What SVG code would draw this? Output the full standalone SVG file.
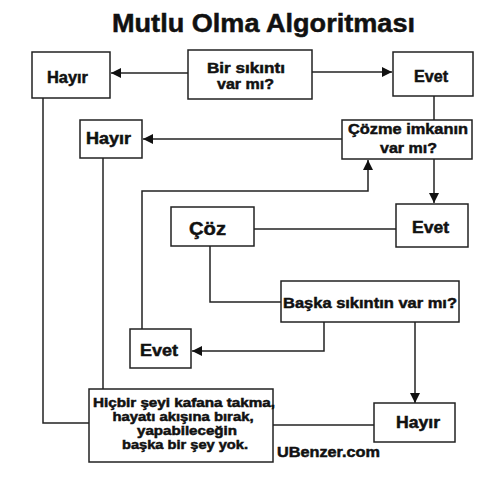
<svg xmlns="http://www.w3.org/2000/svg" width="500" height="493" viewBox="0 0 500 493">
<style>
.box{fill:#fff;stroke:#222;stroke-width:1.5}
.t{font-family:"Liberation Sans",Arial,sans-serif;font-weight:bold;fill:#111;stroke:#111;stroke-width:0.5;text-anchor:middle}
.c{fill:none;stroke:#222;stroke-width:1.5}
</style>
<defs>
<marker id="ah" markerUnits="userSpaceOnUse" markerWidth="11" markerHeight="11" refX="10" refY="5" orient="auto">
<path d="M0,0 L10,5 L0,10 z" fill="#111"/>
</marker>
</defs>
<rect width="500" height="493" fill="#fff"/>
<text class="t" x="263.5" y="32" font-size="26" stroke-width="1" textLength="303" lengthAdjust="spacingAndGlyphs">Mutlu Olma Algoritması</text>
<g id="connectors">
<path class="c" d="M188,73 L111,73" marker-end="url(#ah)"/>
<path class="c" d="M312,72 L392,72" marker-end="url(#ah)"/>
<path class="c" d="M434,96 L434,120"/>
<path class="c" d="M342,139 L143,139" marker-end="url(#ah)"/>
<path class="c" d="M434,159 L434,203" marker-end="url(#ah)"/>
<path class="c" d="M254,229 L396,229"/>
<path class="c" d="M210,246 L210,302 L281,302"/>
<path class="c" d="M324,322 L324,351 L192,351" marker-end="url(#ah)"/>
<path class="c" d="M415,322 L415,403" marker-end="url(#ah)"/>
<path class="c" d="M142,329 L142,191 L368,191 L368,160" marker-end="url(#ah)"/>
<path class="c" d="M43,98 L43,423 L89,423"/>
<path class="c" d="M103,158 L103,389"/>
<path class="c" d="M273,425 L374,425"/>
</g>
<g id="hayir1"><rect class="box" x="32" y="52" width="78" height="46"/><text class="t" x="67.5" y="83" font-size="16" textLength="41" lengthAdjust="spacingAndGlyphs">Hayır</text></g>
<g id="birsikinti"><rect class="box" x="188" y="50" width="124" height="49"/><text class="t" x="246" y="73" font-size="15" textLength="78" lengthAdjust="spacingAndGlyphs">Bir sıkıntı</text><text class="t" x="245.5" y="89" font-size="15" textLength="57" lengthAdjust="spacingAndGlyphs">var mı?</text></g>
<g id="evet1"><rect class="box" x="393" y="52" width="80" height="44"/><text class="t" x="431" y="82" font-size="16" textLength="34" lengthAdjust="spacingAndGlyphs">Evet</text></g>
<g id="hayir2"><rect class="box" x="80" y="120" width="62" height="38"/><text class="t" x="108.5" y="144" font-size="16" textLength="45" lengthAdjust="spacingAndGlyphs">Hayır</text></g>
<g id="cozme"><rect class="box" x="342" y="120" width="130" height="39"/><text class="t" x="408" y="134" font-size="15" textLength="120" lengthAdjust="spacingAndGlyphs">Çözme imkanın</text><text class="t" x="408.5" y="153" font-size="15" textLength="57" lengthAdjust="spacingAndGlyphs">var mı?</text></g>
<g id="coz"><rect class="box" x="171" y="207" width="83" height="39"/><text class="t" x="207.5" y="235" font-size="19" textLength="37" lengthAdjust="spacingAndGlyphs">Çöz</text></g>
<g id="evet2"><rect class="box" x="396" y="204" width="72" height="43"/><text class="t" x="430.5" y="233" font-size="16" textLength="37" lengthAdjust="spacingAndGlyphs">Evet</text></g>
<g id="baska"><rect class="box" x="281" y="281" width="178" height="41"/><text class="t" x="370" y="308" font-size="15" textLength="174" lengthAdjust="spacingAndGlyphs">Başka sıkıntın var mı?</text></g>
<g id="evet3"><rect class="box" x="130" y="329" width="61" height="39"/><text class="t" x="159" y="356" font-size="16" textLength="38" lengthAdjust="spacingAndGlyphs">Evet</text></g>
<g id="hayir3"><rect class="box" x="374" y="403" width="81" height="39"/><text class="t" x="418" y="428" font-size="16" textLength="44" lengthAdjust="spacingAndGlyphs">Hayır</text></g>
<g id="hicbir"><rect class="box" x="89" y="389" width="184" height="73"/>
<text class="t" x="184" y="407" font-size="12.5" textLength="182" lengthAdjust="spacingAndGlyphs">Hiçbir şeyi kafana takma,</text>
<text class="t" x="183" y="421" font-size="12.5" textLength="141" lengthAdjust="spacingAndGlyphs">hayatı akışına bırak,</text>
<text class="t" x="187" y="435" font-size="12.5" textLength="100" lengthAdjust="spacingAndGlyphs">yapabileceğin</text>
<text class="t" x="185" y="449" font-size="12.5" textLength="126" lengthAdjust="spacingAndGlyphs">başka bir şey yok.</text>
</g>
<text class="t" x="328.5" y="457" font-size="15" textLength="103" lengthAdjust="spacingAndGlyphs">UBenzer.com</text>
</svg>
